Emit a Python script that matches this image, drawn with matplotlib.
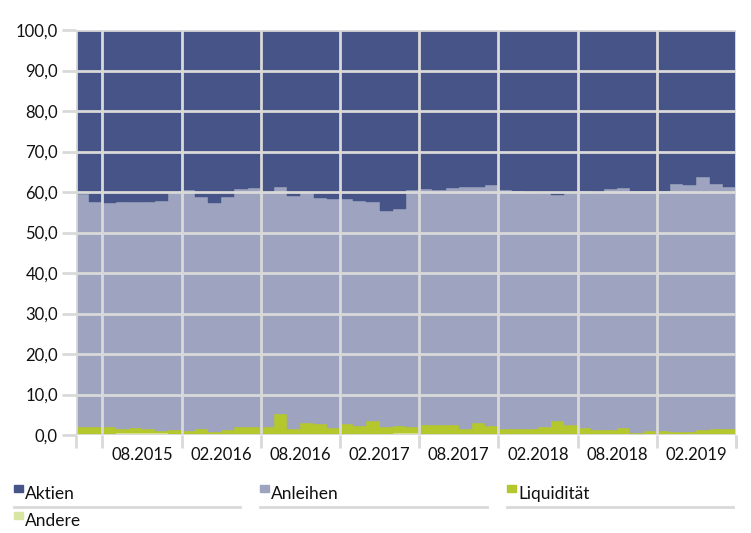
import numpy as np
import matplotlib.pyplot as plt
from matplotlib.patches import Rectangle
from matplotlib.lines import Line2D

plt.rcParams['font.family'] = ['Lato', 'DejaVu Sans']

# --- monthly asset allocation in %, 50 months ---
aktien = [40.4, 42.4, 42.8, 42.5, 42.5, 42.5, 42.1, 40.2, 39.5, 41.3,
          42.6, 41.2, 39.3, 39.1, 39.9, 38.8, 40.9, 40.3, 41.4, 41.8,
          41.8, 42.1, 42.5, 44.6, 44.2, 39.5, 39.3, 39.4, 39.0, 38.8,
          38.8, 38.3, 39.6, 39.8, 39.9, 40.3, 40.8, 40.3, 39.8, 40.3,
          39.2, 39.0, 39.7, 39.7, 39.8, 38.1, 38.3, 36.2, 38.0, 38.8]
anleihen = [57.6, 55.7, 55.3, 56.1, 55.8, 56.0, 56.8, 58.5, 59.5, 57.3,
            56.6, 57.6, 58.8, 59.0, 58.2, 56.0, 57.7, 56.7, 55.9, 56.5,
            55.6, 55.6, 54.0, 53.5, 53.5, 58.6, 58.2, 58.1, 58.5, 59.7,
            58.2, 59.4, 59.0, 58.8, 58.5, 57.8, 55.7, 57.2, 58.4, 58.5,
            59.6, 59.3, 59.9, 59.3, 59.3, 61.2, 60.9, 62.6, 60.4, 59.6]
liquiditaet = [1.7, 1.7, 1.7, 1.0, 1.3, 1.1, 0.7, 1.1, 0.8, 1.2,
               0.6, 1.0, 1.7, 1.7, 1.7, 5.0, 1.2, 2.8, 2.5, 1.5,
               2.4, 2.1, 3.3, 1.7, 1.8, 1.4, 2.3, 2.3, 2.3, 1.3,
               2.8, 2.1, 1.2, 1.2, 1.4, 1.7, 3.3, 2.3, 1.6, 1.0,
               1.0, 1.5, 0.3, 0.8, 0.7, 0.5, 0.6, 1.0, 1.4, 1.4]
andere = [0.2, 0.2, 0.2, 0.4, 0.4, 0.4, 0.4, 0.2, 0.2, 0.2,
          0.2, 0.2, 0.2, 0.2, 0.2, 0.2, 0.2, 0.2, 0.2, 0.2,
          0.2, 0.2, 0.2, 0.2, 0.5, 0.5, 0.2, 0.2, 0.2, 0.2,
          0.2, 0.2, 0.2, 0.2, 0.2, 0.2, 0.2, 0.2, 0.2, 0.2,
          0.2, 0.2, 0.1, 0.2, 0.2, 0.2, 0.2, 0.2, 0.2, 0.2]
x_labels = ['08.2015', '02.2016', '08.2016', '02.2017',
            '08.2017', '02.2018', '08.2018', '02.2019']

series = [('Andere', andere, '#d9e5a2'),
          ('Liquidität', liquiditaet, '#b4c72c'),
          ('Anleihen', anleihen, '#9ea4bf'),
          ('Aktien', aktien, '#465488')]

GRID = '#d9d9d9'
W, H = 751, 533

fig = plt.figure(figsize=(7.51, 5.33), dpi=100)
ax = fig.add_axes([76 / W, 1 - 435 / H, 660 / W, 405 / H])

x = np.arange(len(aktien))
bottom = np.zeros(len(aktien))
for name, vals, col in series:
    vals = np.array(vals)
    ax.bar(x, vals, width=1.0, bottom=bottom, color=col,
           edgecolor=col, linewidth=0.3, zorder=1)
    bottom += vals

ax.set_xlim(-0.5, len(aktien) - 0.5)
ax.set_ylim(0, 100)

# y axis
ax.set_yticks(np.arange(0, 101, 10))
ax.set_yticklabels([f'{v:.1f}'.replace('.', ',') for v in range(0, 101, 10)],
                   fontsize=12, color='#111111')
ax.tick_params(axis='y', length=10, width=2, color=GRID, pad=3)

# x axis: boundaries every 6 months, labels centred in between
bounds = [-0.5] + list(np.arange(1.5, 50, 6)) + [49.5]
ax.set_xticks(bounds)
ax.set_xticklabels([''] * len(bounds))
ax.tick_params(axis='x', which='major', length=9.5, width=2, color=GRID)
ax.set_xticks(np.arange(4.5, 50, 6), minor=True)
ax.set_xticklabels(x_labels, minor=True, fontsize=12, color='#111111')
ax.tick_params(axis='x', which='minor', length=0, pad=9)

ax.grid(True, which='major', color=GRID, linewidth=2, zorder=3)
ax.set_axisbelow(False)
for s in ax.spines.values():
    s.set_visible(False)

# legend drawn by hand in figure pixels
legend = [(14, 494, 'Aktien', '#465488'),
          (260, 494, 'Anleihen', '#9ea4bf'),
          (507, 494, 'Liquidität', '#b4c72c'),
          (14, 521, 'Andere', '#d9e5a2')]
for px, py, name, col in legend:
    fig.patches.append(Rectangle((px / W, 1 - (py - 2) / H), 9 / W, 7 / H,
                                 transform=fig.transFigure, color=col))
    fig.text((px + 11) / W, 1 - py / H, name, fontsize=12.5,
             va='center', ha='left', color='#111111')
for x0, x1 in [(14, 240), (260, 487), (507, 733)]:
    fig.lines.append(Line2D([x0 / W, x1 / W], [1 - 507 / H] * 2,
                            transform=fig.transFigure, color=GRID, lw=2))

fig.savefig('out.png', dpi=100)
